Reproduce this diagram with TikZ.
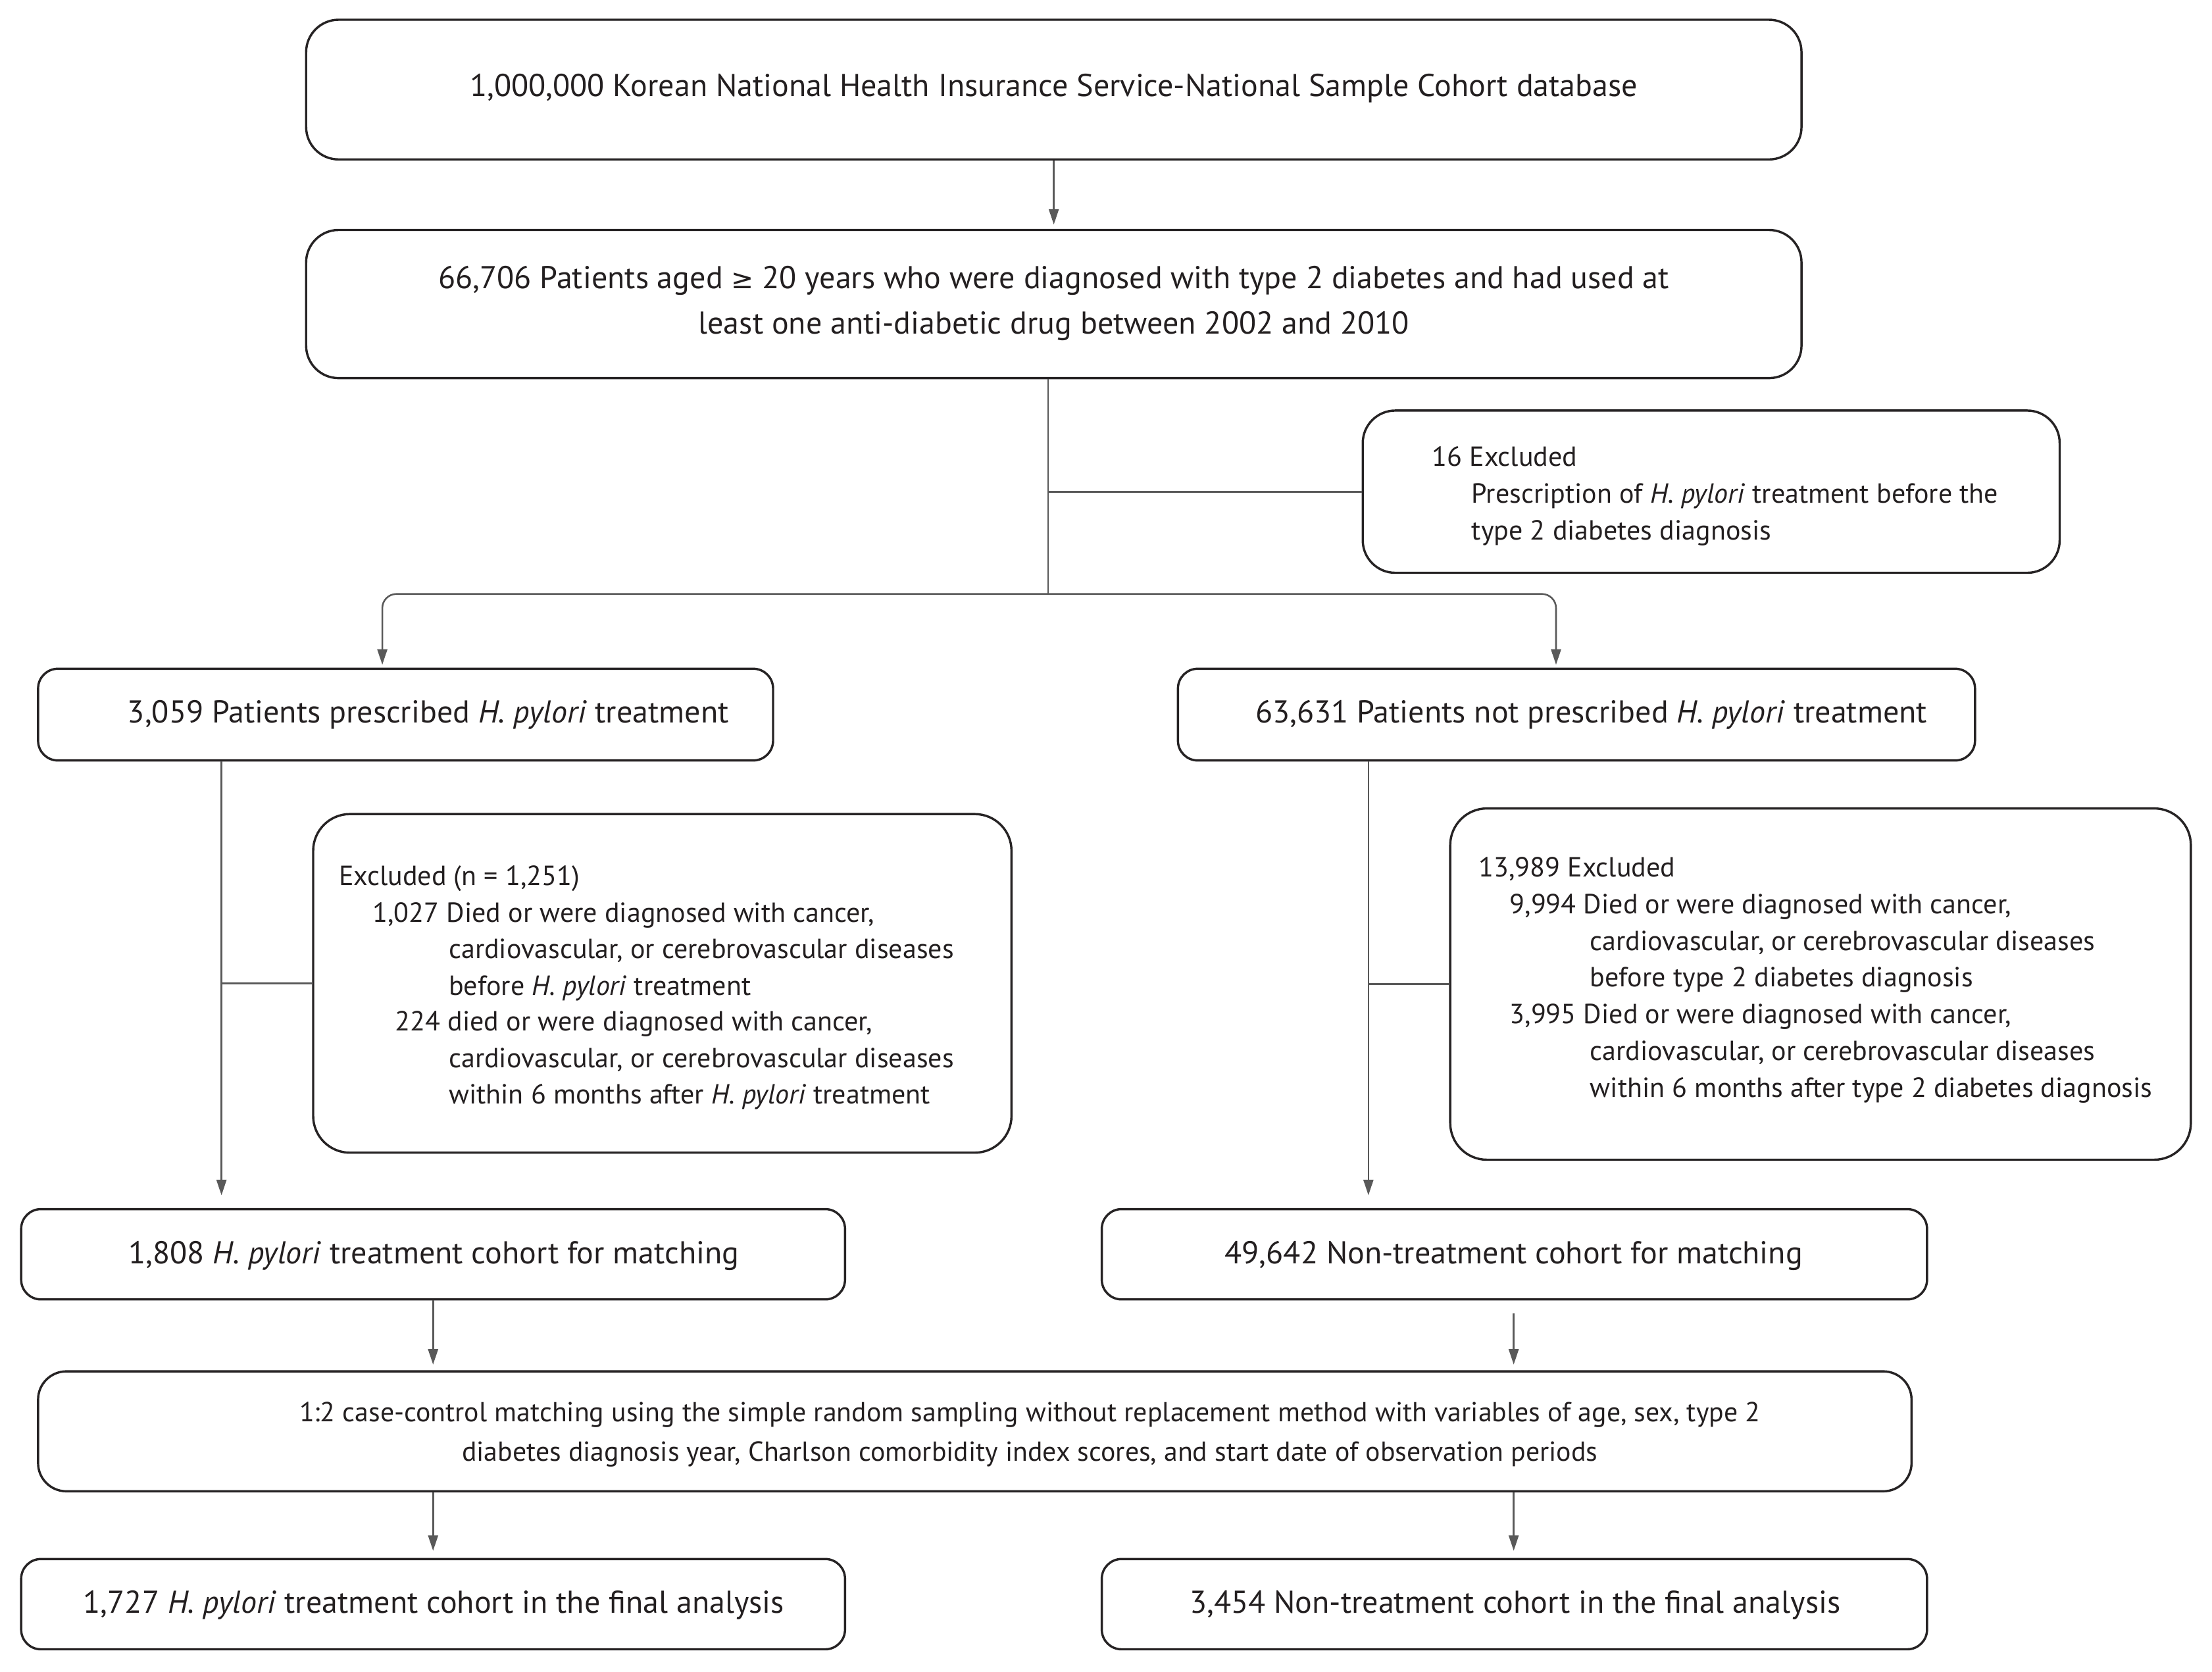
\documentclass[tikz,border=0pt]{standalone}
\usepackage{fontspec}
\setmainfont{PT Sans}
\newfontfamily\symfont{DejaVu Sans}
\usetikzlibrary{arrows.meta}
\definecolor{boxc}{HTML}{262324}
\definecolor{linec}{HTML}{595959}
\definecolor{txtc}{HTML}{231F20}
\begin{document}
\begin{tikzpicture}[x=1pt,y=-1pt,
  box/.style={draw=boxc, line width=1.6pt, rounded corners=#1, inner sep=0pt, fill=white},
  box/.default=23pt,
  btxt/.style={inner sep=0pt, font=\fontsize{22.4}{26}\selectfont, text=txtc},
  txt/.style={inner sep=0pt, font=\fontsize{19.6}{26}\selectfont, text=txtc},
  stxt/.style={inner sep=0pt, font=\fontsize{19.5}{26}\selectfont, text=txtc},
  conn/.style={draw=linec, line width=1.2pt},
  arr/.style={conn, -{Triangle[length=11pt,width=7pt]}}]
\useasboundingbox (0,0) rectangle (1568,1185);
% boxes
\node[box, minimum width=1060pt, minimum height=99pt] (b1) at (747,63.5) {};
\node[box, minimum width=1060pt, minimum height=105pt] (b2) at (747,215.5) {};
\node[box, minimum width=494pt, minimum height=115pt] (b3) at (1213,348.5) {};
\node[box=14pt, minimum width=521pt, minimum height=65pt] (b4) at (287.5,506.5) {};
\node[box=14pt, minimum width=565pt, minimum height=65pt] (b5) at (1117.5,506.5) {};
\node[box=26pt, minimum width=495pt, minimum height=240pt] (b7) at (469.5,697) {};
\node[box=26pt, minimum width=525pt, minimum height=249pt] (b8) at (1290.5,697.5) {};
\node[box=14pt, minimum width=584pt, minimum height=64pt] (b6) at (307,889) {};
\node[box=14pt, minimum width=585pt, minimum height=64pt] (b9) at (1073.5,889) {};
\node[box=20pt, minimum width=1328pt, minimum height=85pt] (b10) at (691,1014.5) {};
\node[box=14pt, minimum width=584pt, minimum height=64pt] (b11) at (307,1137) {};
\node[box=14pt, minimum width=585pt, minimum height=64pt] (b12) at (1073.5,1137) {};
% texts
\node[btxt, anchor=mid] (t1) at (747,66) {1,000,000 Korean National Health Insurance Service-National Sample Cohort database};
\node[btxt, anchor=mid] (t2a) at (747,202) {66,706 Patients aged {\symfont\fontsize{19}{26}\selectfont ≥} 20 years who were diagnosed with type 2 diabetes and had used at};
\node[btxt, anchor=mid] (t2b) at (747,234) {least one anti-diabetic drug between 2002 and 2010};
\node[txt, anchor=mid west] (t3a) at (1015,328) {16 Excluded};
\node[txt, anchor=mid west] (t3b) at (1043,354) {Prescription of \textit{H. pylori} treatment before the};
\node[txt, anchor=mid west] (t3c) at (1043,380) {type 2 diabetes diagnosis};
\node[btxt, anchor=mid] (t4) at (303.5,510) {3,059 Patients prescribed \textit{H. pylori} treatment};
\node[btxt, anchor=mid] (t5) at (1128,510) {63,631 Patients not prescribed \textit{H. pylori} treatment};
\node[txt, anchor=mid west] (t7a) at (240,625) {Excluded (n = 1,251)};
\node[txt, anchor=mid west] (t7b) at (264,651) {1,027 Died or were diagnosed with cancer,};
\node[txt, anchor=mid west] (t7c) at (318,677) {cardiovascular, or cerebrovascular diseases};
\node[txt, anchor=mid west] (t7d) at (318,703) {before \textit{H. pylori} treatment};
\node[txt, anchor=mid west] (t7e) at (280,728) {224 died or were diagnosed with cancer,};
\node[txt, anchor=mid west] (t7f) at (318,754) {cardiovascular, or cerebrovascular diseases};
\node[txt, anchor=mid west] (t7g) at (318,780) {within 6 months after \textit{H. pylori} treatment};
\node[txt, anchor=mid west] (t8a) at (1048,619) {13,989 Excluded};
\node[txt, anchor=mid west] (t8b) at (1070,645) {9,994 Died or were diagnosed with cancer,};
\node[txt, anchor=mid west] (t8c) at (1127,671) {cardiovascular, or cerebrovascular diseases};
\node[txt, anchor=mid west] (t8d) at (1127,697) {before type 2 diabetes diagnosis};
\node[txt, anchor=mid west] (t8e) at (1070,723) {3,995 Died or were diagnosed with cancer,};
\node[txt, anchor=mid west] (t8f) at (1127,749) {cardiovascular, or cerebrovascular diseases};
\node[txt, anchor=mid west] (t8g) at (1127,775) {within 6 months after type 2 diabetes diagnosis};
\node[btxt, anchor=mid] (t6) at (307.5,893) {1,808 \textit{H. pylori} treatment cohort for matching};
\node[btxt, anchor=mid] (t9) at (1073,893) {49,642 Non-treatment cohort for matching};
\node[stxt, anchor=mid] (t10a) at (730,1005) {1:2 case-control matching using the simple random sampling without replacement method with variables of age, sex, type 2};
\node[stxt, anchor=mid] (t10b) at (730,1033) {diabetes diagnosis year, Charlson comorbidity index scores, and start date of observation periods};
\node[btxt, anchor=mid] (t11) at (307.5,1141) {1,727 \textit{H. pylori} treatment cohort in the final analysis};
\node[btxt, anchor=mid] (t12) at (1074,1141) {3,454 Non-treatment cohort in the final analysis};
% connectors
\coordinate (j1) at (743,421);
\coordinate (l4) at (271,0);
\coordinate (l5) at (1103,0);
\coordinate (v1) at (157,0);
\coordinate (v2) at (970,0);
\coordinate (v3) at (1073,0);
\draw[arr, shorten >=3pt] (b1.south) -- (b2.north);
\draw[conn] (b2.south -| j1) -- (j1);
\draw[conn] (j1 |- b3.west) -- (b3.west);
\draw[arr, rounded corners=10pt, shorten >=2pt] (j1) -| (b4.north -| l4);
\draw[arr, rounded corners=10pt, shorten >=2pt] (j1) -| (b5.north -| l5);
\draw[arr, shorten >=9pt] (b4.south -| v1) -- (b6.north -| v1);
\draw[conn] (v1 |- b7.west) -- (b7.west);
\draw[arr, shorten >=9pt] (b5.south -| v2) -- (b9.north -| v2);
\draw[conn] (v2 |- b8.west) -- (b8.west);
\draw[arr, shorten >=4pt] (b6.south) -- (b10.north -| b6.south);
\draw[arr, shorten <=9pt, shorten >=4pt] (b9.south -| v3) -- (b10.north -| v3);
\draw[arr, shorten >=5pt] (b10.south -| b6.south) -- (b11.north);
\draw[arr, shorten >=5pt] (b10.south -| v3) -- (b12.north -| v3);
\end{tikzpicture}
\end{document}
